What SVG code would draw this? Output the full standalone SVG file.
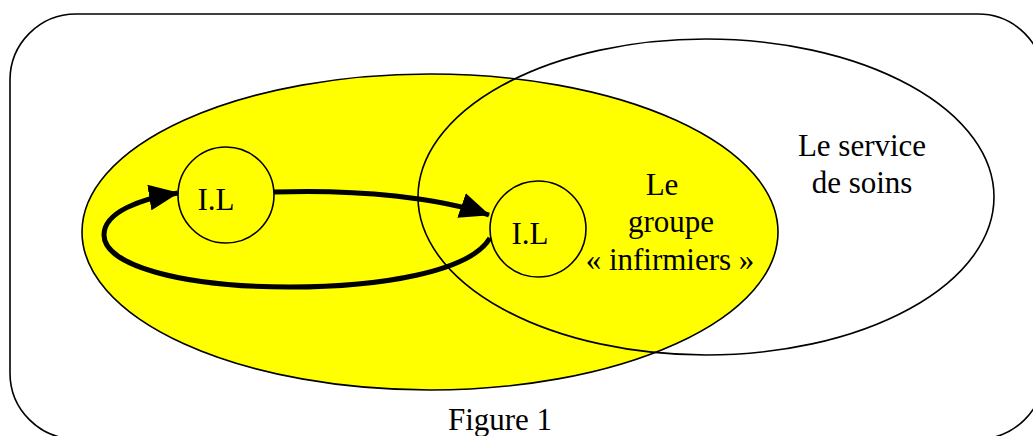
<svg xmlns="http://www.w3.org/2000/svg" width="1033" height="436" viewBox="0 0 1033 436">
<style>
.thin{fill:none;stroke:#000;stroke-width:1.6}
.t{font-family:"Liberation Serif",serif;font-size:31px;fill:#000;text-anchor:middle}
.arr{fill:none;stroke:#000;stroke-width:5}
</style>
<defs>
<marker id="ah" viewBox="0 0 30 26" refX="29" refY="13" markerWidth="30" markerHeight="26" markerUnits="userSpaceOnUse" orient="auto">
<path d="M0,0 L30,13 L0,26 Z" fill="#000"/>
</marker>
</defs>
<rect id="frame" x="10" y="14" width="1034" height="425" rx="66" ry="66" class="thin"/>
<g id="groupe">
<ellipse cx="430" cy="232" rx="348" ry="158" fill="#ffff00" stroke="#000" stroke-width="1.6"/>
</g>
<g id="service">
<ellipse cx="706" cy="197" rx="288" ry="158" class="thin"/>
<text class="t" x="862" y="156">Le service</text>
<text class="t" x="862" y="193">de soins</text>
</g>
<g id="groupe-label">
<text class="t" x="662" y="195">Le</text>
<text class="t" x="671" y="232">groupe</text>
<text class="t" x="670" y="270">« infirmiers »</text>
</g>
<g id="il1">
<circle cx="226" cy="195" r="48" class="thin"/>
<text class="t" x="216" y="210">I.L</text>
</g>
<g id="il2">
<circle cx="538" cy="229" r="48" class="thin"/>
<text class="t" x="530" y="244">I.L</text>
</g>
<g id="connectors">
<path class="arr" d="M274,192 C360,189 440,198 489,215" marker-end="url(#ah)"/>
<path class="arr" d="M490,238 C470,272 380,287 290,287 C180,287 104,265 104,235 C104,212 140,199 178,193" marker-end="url(#ah)"/>
</g>
<text id="caption" class="t" x="500" y="430">Figure 1</text>
</svg>
